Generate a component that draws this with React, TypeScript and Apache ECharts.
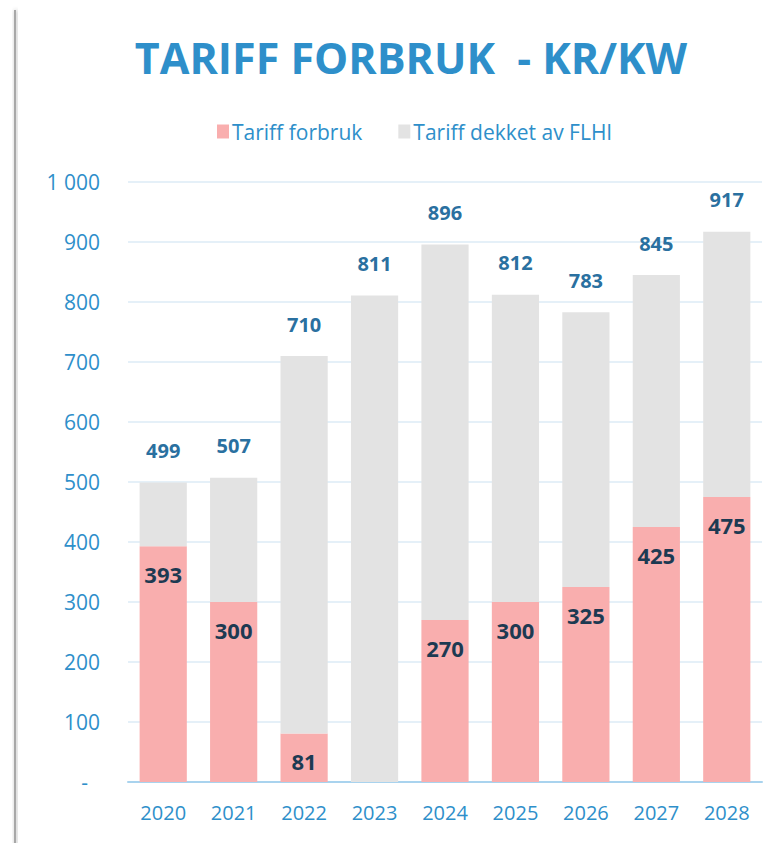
import React, { useEffect, useRef } from "react";
import * as echarts from "echarts";

const years = ["2020", "2021", "2022", "2023", "2024", "2025", "2026", "2027", "2028"];
const tariffForbruk = [393, 300, 81, 0, 270, 300, 325, 425, 475];
const totals = [499, 507, 710, 811, 896, 812, 783, 845, 917];
const dekketAvFLHI = totals.map((t, i) => t - tariffForbruk[i]);

const FONT = "'Open Sans', 'Noto Sans', sans-serif";
const BLUE = "#2e8fca";

export default function App() {
  const ref = useRef<HTMLDivElement>(null);
  useEffect(() => {
    if (!ref.current) return;
    const chart = echarts.init(ref.current, undefined, { renderer: "svg" });
    chart.setOption({
      animation: false,
      backgroundColor: "#ffffff",
      title: {
        text: "TARIFF FORBRUK  - KR/KW",
        left: 406,
        top: 31,
        textAlign: "center",
        textStyle: { fontFamily: FONT, fontSize: 43, fontWeight: "bold", color: BLUE },
      },
      legend: {
        top: 116,
        left: 212,
        itemWidth: 12,
        itemHeight: 14,
        itemGap: 36,
        icon: "rect",
        textStyle: { fontFamily: FONT, fontSize: 21, color: BLUE, padding: [0, 0, 0, -2] },
        data: ["Tariff forbruk", "Tariff dekket av FLHI"],
      },
      graphic: [
        {
          type: "rect",
          shape: { x: 14, y: 10, width: 2, height: 840 },
          style: { fill: "#a8a8a8", shadowBlur: 4, shadowColor: "rgba(0,0,0,0.35)", shadowOffsetX: 1 },
        },
      ],
      grid: { left: 128, right: 18, top: 182, bottom: 61 },
      xAxis: {
        type: "category",
        data: years,
        axisTick: { show: false },
        axisLine: { lineStyle: { color: "#a9d3ee", width: 2 } },
        axisLabel: { fontFamily: FONT, fontSize: 20, color: BLUE, margin: 20 },
      },
      yAxis: {
        type: "value",
        min: 0,
        max: 1000,
        interval: 100,
        axisLine: { show: false },
        axisTick: { show: false },
        splitLine: { lineStyle: { color: "#dcebf6", width: 1.5 } },
        axisLabel: {
          fontFamily: FONT,
          fontSize: 21,
          color: BLUE,
          margin: 28,
          formatter: (v: number) => (v === 0 ? "{d|-}" : v >= 1000 ? "1 000" : String(v)),
          rich: { d: { fontFamily: FONT, fontSize: 21, color: BLUE, padding: [0, 12, 0, 0] } },
        },
      },
      series: [
        {
          name: "Tariff forbruk",
          type: "bar",
          stack: "total",
          barWidth: "67%",
          data: tariffForbruk,
          itemStyle: { color: "#f9aeae" },
          label: {
            show: true,
            position: "insideTop",
            distance: 17,
            fontFamily: FONT,
            fontSize: 22,
            fontWeight: "bold",
            color: "#1d3a52",
            formatter: (p: any) => (p.value === 0 ? "" : String(p.value)),
          },
        },
        {
          name: "Tariff dekket av FLHI",
          type: "bar",
          stack: "total",
          barWidth: "67%",
          data: dekketAvFLHI,
          itemStyle: { color: "#e3e3e3" },
          label: {
            show: true,
            position: "top",
            distance: 22,
            fontFamily: FONT,
            fontSize: 20,
            fontWeight: "bold",
            color: "#2a70a0",
            formatter: (p: any) => String(totals[p.dataIndex]),
          },
        },
      ],
    });
    return () => chart.dispose();
  }, []);
  return <div ref={ref} style={{ width: 780, height: 843, position: "absolute", left: 0, top: 0 }} />;
}
